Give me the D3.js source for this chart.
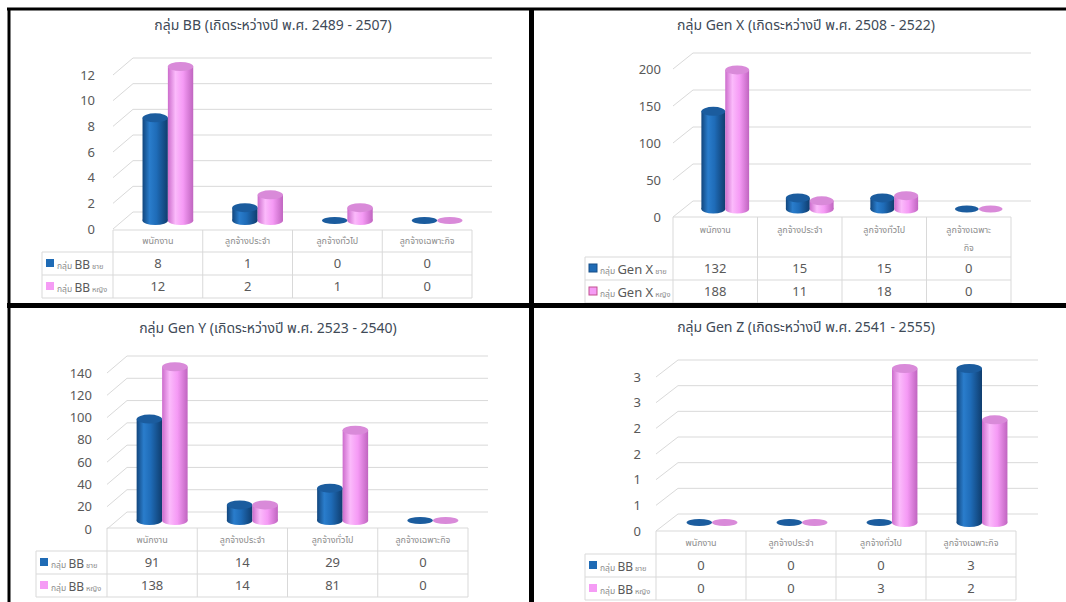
<!DOCTYPE html>
<html>
<head>
<meta charset="utf-8">
<script src="https://cdn.jsdelivr.net/npm/d3@7"></script>
<style>
  html, body { margin: 0; padding: 0; background: #ffffff; }
  svg { display: block; }
</style>
</head>
<body>
<svg id="chart" width="1066" height="602"></svg>
<script>
// ---------------- DATA ----------------
const categories = ["พนักงาน", "ลูกจ้างประจำ", "ลูกจ้างทั่วไป", "ลูกจ้างเฉพาะกิจ"];
const seriesKeys = ["male", "female"];

const bbTitle = "กลุ่ม BB (เกิดระหว่างปี พ.ศ. 2489 - 2507)";
const genXTitle = "กลุ่ม Gen X (เกิดระหว่างปี พ.ศ. 2508 - 2522)";
const genYTitle = "กลุ่ม Gen Y (เกิดระหว่างปี พ.ศ. 2523 - 2540)";
const genZTitle = "กลุ่ม Gen Z (เกิดระหว่างปี พ.ศ. 2541 - 2555)";

const bbLegend = ["BB", "BB"];
const genXLegend = ["Gen X", "Gen X"];
const genYLegend = ["BB", "BB"];
const genZLegend = ["BB", "BB"];
const legendPrefix = "กลุ่ม ";
const legendSuffix = [" ชาย", " หญิง"];

const bbMale = [8, 1, 0, 0];
const bbFemale = [12, 2, 1, 0];
const genXMale = [132, 15, 15, 0];
const genXFemale = [188, 11, 18, 0];
const genYMale = [91, 14, 29, 0];
const genYFemale = [138, 14, 81, 0];
const genZMale = [0, 0, 0, 3];
const genZFemale = [0, 0, 3, 2];

const bbTicks = [0, 2, 4, 6, 8, 10, 12];
const genXTicks = [0, 50, 100, 150, 200];
const genYTicks = [0, 20, 40, 60, 80, 100, 120, 140];
const genZTicks = [0, 0.5, 1, 1.5, 2, 2.5, 3];

// ---------------- STYLE / LAYOUT ----------------
const thaiFont = "'Noto Sans Thai', 'Noto Sans Thai UI', Tahoma, 'Leelawadee UI', 'Noto Sans', sans-serif";
const numFont = "'Noto Sans', 'Open Sans', sans-serif";
const gridColor = "#d9d9d9";
const tableColor = "#d9d9d9";
const textColor = "#595959";
const blueSwatch = "#1f6bb5";
const pinkSwatch = "#f59cf5";

const svg = d3.select("#chart");
const defs = svg.append("defs");

function grad(id, stops) {
  const g = defs.append("linearGradient").attr("id", id)
    .attr("x1", "0%").attr("x2", "100%").attr("y1", "0%").attr("y2", "0%");
  stops.forEach(s => g.append("stop").attr("offset", s[0]).attr("stop-color", s[1]));
}
grad("gBlue", [["0%", "#12467d"], ["28%", "#2a7dcc"], ["55%", "#1f6cb8"], ["100%", "#0f3d6e"]]);
grad("gPink", [["0%", "#cc6ccc"], ["30%", "#fbbafb"], ["60%", "#f59af5"], ["100%", "#c065c0"]]);
const bodyFill = { male: "url(#gBlue)", female: "url(#gPink)" };
const capFill = { male: "#1b5c9e", female: "#d98ad9" };
const swatchFill = { male: blueSwatch, female: pinkSwatch };

const panels = [
  { title: bbTitle, legend: bbLegend, male: bbMale, female: bbFemale, ticks: bbTicks,
    titleX: 273, titleY: 30, labelX: 95, front0: 229, frontTop: 75,
    catLeft: 113, right: 472, tableLeft: 42, tableTop: 230, headerH: 22, rowH: 23,
    dx: 20, dy: -17, legendSize: 12, wrap: false, swatchStroke: false },
  { title: genXTitle, legend: genXLegend, male: genXMale, female: genXFemale, ticks: genXTicks,
    titleX: 806, titleY: 30, labelX: 661, front0: 217, frontTop: 69,
    catLeft: 673, right: 1011, tableLeft: 585, tableTop: 217, headerH: 40, rowH: 23,
    dx: 20, dy: -16, legendSize: 13, wrap: true, swatchStroke: true },
  { title: genYTitle, legend: genYLegend, male: genYMale, female: genYFemale, ticks: genYTicks,
    titleX: 268, titleY: 333, labelX: 92, front0: 529, frontTop: 373,
    catLeft: 107, right: 468, tableLeft: 36, tableTop: 528, headerH: 23, rowH: 23,
    dx: 20, dy: -17, legendSize: 12, wrap: false, swatchStroke: false },
  { title: genZTitle, legend: genZLegend, male: genZMale, female: genZFemale, ticks: genZTicks,
    titleX: 806, titleY: 332, labelX: 641, front0: 531, frontTop: 377,
    catLeft: 656, right: 1016, tableLeft: 585, tableTop: 531, headerH: 23, rowH: 23,
    dx: 22, dy: -17, legendSize: 12, wrap: false, swatchStroke: false, roundTicks: true }
];

function drawPanel(p) {
  const g = svg.append("g");
  const maxTick = d3.max(p.ticks);
  const y = d3.scaleLinear().domain([0, maxTick]).range([p.front0, p.frontTop]);
  const x = d3.scaleBand().domain(categories).range([p.catLeft, p.right]);
  const sub = d3.scaleBand().domain(seriesKeys).range([0, x.bandwidth()]).paddingOuter(0.77);
  const fmt = p.roundTicks ? (v => String(Math.round(v))) : d3.format("d");

  // title
  g.append("text").attr("x", p.titleX).attr("y", p.titleY)
    .attr("text-anchor", "middle").attr("font-family", thaiFont)
    .attr("font-size", 14).attr("fill", "#404a57").text(p.title);

  // gridlines: diagonal side wall + back wall
  const grid = g.append("g").attr("stroke", gridColor).attr("stroke-width", 1).attr("fill", "none");
  grid.selectAll("line.diag").data(p.ticks).join("line").attr("class", "diag")
    .attr("x1", p.catLeft).attr("y1", d => y(d))
    .attr("x2", p.catLeft + p.dx).attr("y2", d => y(d) + p.dy);
  grid.selectAll("line.back").data(p.ticks).join("line").attr("class", "back")
    .attr("x1", p.catLeft + p.dx).attr("y1", d => y(d) + p.dy)
    .attr("x2", p.right + p.dx).attr("y2", d => y(d) + p.dy);

  // tick labels
  g.selectAll("text.tick").data(p.ticks).join("text").attr("class", "tick")
    .attr("x", p.labelX).attr("y", d => y(d)).attr("dy", "0.35em")
    .attr("text-anchor", "end").attr("font-family", numFont).attr("font-size", 13)
    .attr("fill", textColor).text(d => fmt(d));

  // bars (cylinders)
  const rows = seriesKeys.map(k => ({ key: k, values: p[k] }));
  const ry = 4.5;
  const ox = p.dx * 0.5, oy = p.dy * 0.5;
  rows.forEach(r => {
    const items = categories.map((c, i) => ({ c, v: r.values[i] }));
    const bg = g.append("g");
    items.forEach(d => {
      const bx = x(d.c) + sub(r.key) + ox;
      const bw = sub.bandwidth();
      const cx = bx + bw / 2;
      const yb = y(0) + oy;
      const yt = y(d.v) + oy;
      if (d.v > 0) {
        bg.append("ellipse").attr("cx", cx).attr("cy", yb).attr("rx", bw / 2).attr("ry", ry)
          .attr("fill", bodyFill[r.key]);
        bg.append("rect").attr("x", bx).attr("y", yt).attr("width", bw).attr("height", yb - yt)
          .attr("fill", bodyFill[r.key]);
      }
      bg.append("ellipse").attr("cx", cx).attr("cy", yt).attr("rx", bw / 2).attr("ry", d.v > 0 ? ry : 3.5)
        .attr("fill", capFill[r.key]);
    });
  });

  // data table
  const tb = g.append("g").attr("stroke", tableColor).attr("stroke-width", 1);
  const headBottom = p.tableTop + p.headerH;
  const bottom = headBottom + 2 * p.rowH;
  const colEdges = categories.map(c => x(c)).concat([p.right]);
  tb.append("line").attr("x1", p.catLeft).attr("x2", p.right).attr("y1", p.tableTop).attr("y2", p.tableTop);
  [headBottom, headBottom + p.rowH, bottom].forEach(yy =>
    tb.append("line").attr("x1", p.tableLeft).attr("x2", p.right).attr("y1", yy).attr("y2", yy));
  colEdges.forEach(xx =>
    tb.append("line").attr("x1", xx).attr("x2", xx).attr("y1", p.tableTop).attr("y2", bottom));
  tb.append("line").attr("x1", p.tableLeft).attr("x2", p.tableLeft).attr("y1", headBottom).attr("y2", bottom);

  // header category labels
  categories.forEach(c => {
    const lines = (p.wrap && c === "ลูกจ้างเฉพาะกิจ") ? ["ลูกจ้างเฉพาะ", "กิจ"] : [c];
    const t = g.append("text").attr("text-anchor", "middle").attr("font-family", thaiFont)
      .attr("font-size", 9).attr("fill", "#8c8c8c");
    const firstY = p.headerH > 30 ? p.tableTop + 13 : p.tableTop + p.headerH / 2;
    lines.forEach((ln, i) => {
      t.append("tspan").attr("x", x(c) + x.bandwidth() / 2).attr("y", firstY + i * 18)
        .attr("dy", "0.35em").text(ln);
    });
  });

  // rows: legend + values
  rows.forEach((r, ri) => {
    const cy = headBottom + p.rowH * ri + p.rowH / 2;
    g.append("rect").attr("x", p.tableLeft + 4).attr("y", cy - 4.5).attr("width", 8).attr("height", 8)
      .attr("fill", swatchFill[r.key])
      .attr("stroke", p.swatchStroke ? (r.key === "male" ? "#174f88" : "#c2508f") : "none")
      .attr("stroke-width", p.swatchStroke ? 1 : 0);
    const lt = g.append("text").attr("x", p.tableLeft + 15).attr("y", cy).attr("dy", "0.35em")
      .attr("font-family", thaiFont);
    lt.append("tspan").attr("font-size", 8.5).attr("fill", "#8c8c8c").text(legendPrefix);
    lt.append("tspan").attr("font-size", p.legendSize).attr("font-family", numFont).attr("fill", textColor).text(p.legend[ri]);
    lt.append("tspan").attr("font-size", 7.5).attr("fill", "#8c8c8c").text(legendSuffix[ri]);

    g.selectAll(null).data(categories).join("text")
      .attr("x", c => x(c) + x.bandwidth() / 2).attr("y", cy).attr("dy", "0.35em")
      .attr("text-anchor", "middle").attr("font-family", numFont).attr("font-size", 13)
      .attr("fill", textColor).text((c, i) => r.values[i]);
  });
}

panels.forEach(drawPanel);

// panel frames (black borders of the composite image)
const frame = svg.append("g").attr("stroke", "#000").attr("fill", "none");
frame.append("line").attr("x1", 7).attr("x2", 1066).attr("y1", 9).attr("y2", 9).attr("stroke-width", 3);
frame.append("line").attr("x1", 9).attr("x2", 9).attr("y1", 8).attr("y2", 602).attr("stroke-width", 3);
frame.append("line").attr("x1", 531.5).attr("x2", 531.5).attr("y1", 8).attr("y2", 602).attr("stroke-width", 5);
frame.append("line").attr("x1", 7).attr("x2", 1066).attr("y1", 305.5).attr("y2", 305.5).attr("stroke-width", 5);
</script>
</body>
</html>
